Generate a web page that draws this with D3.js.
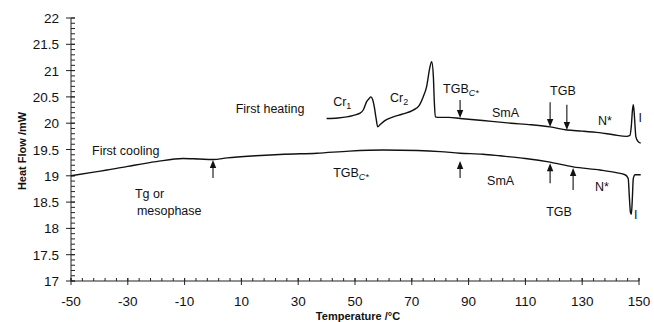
<!DOCTYPE html>
<html><head><meta charset="utf-8">
<script src="https://cdn.jsdelivr.net/npm/d3@7"></script>
<style>
html,body{margin:0;padding:0;background:#fff;}
svg{display:block;}
text{font-family:"Liberation Sans",Arial,sans-serif;fill:#111;}
.title{font-family:"Liberation Sans Narrow","Arial Narrow","Liberation Sans",Arial,sans-serif;font-weight:bold;font-size:11px;}
</style>
</head><body>
<svg id="c" width="654" height="322"></svg>
<script>
// ---- data ----
const xTicks = [-50, -30, -10, 10, 30, 50, 70, 90, 110, 130, 150];
const yTicks = [17, 17.5, 18, 18.5, 19, 19.5, 20, 20.5, 21, 21.5, 22];

const heatingT = [40, 44, 47.1, 49.5, 51.8, 53, 54.1, 55, 55.6, 56.2, 56.8, 57.4, 58.0, 58.8, 60.5, 63.5, 66.5, 70.5, 72.5, 74.0, 75.2, 76.4, 77.0, 77.6, 77.9, 78.3, 79.9, 83, 87, 95, 105, 112, 118.7, 124.6, 130, 136, 141, 145.6, 146.8, 147.3, 147.7, 148.0, 148.3, 148.6, 148.9, 149.7, 150.6];
const heatingV = [20.09, 20.10, 20.12, 20.15, 20.19, 20.26, 20.41, 20.47, 20.50, 20.45, 20.31, 20.10, 19.93, 19.97, 20.05, 20.12, 20.17, 20.25, 20.33, 20.50, 20.69, 21.07, 21.17, 20.88, 20.44, 20.12, 20.11, 20.11, 20.09, 20.05, 20.00, 19.97, 19.93, 19.87, 19.85, 19.82, 19.78, 19.75, 19.77, 19.95, 20.25, 20.35, 20.2, 19.95, 19.74, 19.65, 19.62];

const coolingT = [-50, -42, -37.3, -30, -20, -10.6, -5, 0, 5, 15, 25, 36.6, 48, 60, 72, 80, 87, 95, 101, 110, 118.7, 126.8, 136.3, 142, 145.1, 146.2, 146.6, 147.0, 147.3, 147.6, 148.0, 148.6, 150.6];
const coolingV = [19.0, 19.07, 19.11, 19.18, 19.27, 19.33, 19.32, 19.31, 19.34, 19.38, 19.41, 19.43, 19.47, 19.49, 19.48, 19.46, 19.43, 19.41, 19.38, 19.33, 19.26, 19.17, 19.11, 19.06, 19.02, 18.95, 18.6, 18.3, 18.27, 18.5, 18.95, 19.02, 19.02];

// arrows: temperature, tail value, tip value
const arrowT    = [87, 118.7, 124.6, 0, 87, 118.7, 126.8];
const arrowFrom = [20.44, 20.40, 20.35, 18.96, 18.96, 18.86, 18.73];
const arrowTo   = [20.10, 19.93, 19.87, 19.30, 19.28, 19.24, 19.15];

// annotations
const labelText = ["First heating", "Cr", "Cr", "TGB", "SmA", "TGB", "N*", "I",
                   "First cooling", "Tg or", "mesophase", "TGB", "SmA", "N*", "TGB", "I"];
const labelSub  = ["", "1", "2", "C*", "", "", "", "", "", "", "", "C*", "", "", "", ""];
const labelT    = [20.1, 42.3, 62.3, 81.0, 98.2, 118.7, 135.6, 149.8, -42.6, -27.5, -26.8, 42.3, 96.5, 134.5, 117.3, 148.2];
const labelV    = [20.19, 20.33, 20.40, 20.57, 20.12, 20.54, 19.97, 20.02, 19.40, 18.58, 18.25, 18.98, 18.83, 18.71, 18.24, 18.18];

// ---- chart ----
const svg = d3.select("#c");
const x = d3.scaleLinear().domain([-50, 150]).range([71, 639]);
const y = d3.scaleLinear().domain([17, 22]).range([281, 18]);

const ax = svg.append("g").attr("stroke", "#222").attr("stroke-width", 1);
// axis lines
ax.append("line").attr("x1", x(-50)).attr("x2", x(-50)).attr("y1", y(22)).attr("y2", y(17));
ax.append("line").attr("x1", x(-50)).attr("x2", x(150)).attr("y1", y(17)).attr("y2", y(17));
// y minor ticks every 0.1
d3.range(170, 221, 1).map(d => d / 10).forEach(v => {
  ax.append("line").attr("x1", x(-50)).attr("x2", x(-50) + 4).attr("y1", y(v)).attr("y2", y(v));
});
// y major ticks (crossing)
yTicks.forEach(v => {
  ax.append("line").attr("x1", x(-50) - 5).attr("x2", x(-50) + 4).attr("y1", y(v)).attr("y2", y(v));
});
// x minor ticks every 4
d3.range(-50, 151, 4).forEach(t => {
  ax.append("line").attr("x1", x(t)).attr("x2", x(t)).attr("y1", y(17)).attr("y2", y(17) - 3);
});
// x major ticks
xTicks.forEach(t => {
  ax.append("line").attr("x1", x(t)).attr("x2", x(t)).attr("y1", y(17) - 3).attr("y2", y(17) + 4);
});

// tick labels
svg.append("g").selectAll("text").data(yTicks).join("text")
  .attr("x", 59).attr("y", d => y(d) + 5)
  .attr("text-anchor", "end").attr("font-size", 13.5).text(d => d);
svg.append("g").selectAll("text").data(xTicks).join("text")
  .attr("x", d => x(d)).attr("y", 306)
  .attr("text-anchor", "middle").attr("font-size", 13.5).text(d => d);

// axis titles
svg.append("text").attr("class", "title").attr("x", 358).attr("y", 320)
  .attr("text-anchor", "middle").text("Temperature /°C");
svg.append("text").attr("class", "title")
  .attr("transform", "translate(26,151) rotate(-90)")
  .attr("text-anchor", "middle").text("Heat Flow /mW");

// curves
const line = d3.line().x(d => x(d[0])).y(d => y(d[1])).curve(d3.curveMonotoneX);
const heat = heatingT.map((t, i) => [t, heatingV[i]]);
const cool = coolingT.map((t, i) => [t, coolingV[i]]);
[heat, cool].forEach(s => {
  svg.append("path").attr("d", line(s)).attr("fill", "none")
    .attr("stroke", "#111").attr("stroke-width", 1.4).attr("stroke-linejoin", "round");
});

// arrows
arrowT.forEach((t, i) => {
  const x0 = x(t), y0 = y(arrowFrom[i]), y1 = y(arrowTo[i]);
  const dir = y1 > y0 ? 1 : -1;
  svg.append("line").attr("x1", x0).attr("x2", x0).attr("y1", y0).attr("y2", y1 - dir * 4)
    .attr("stroke", "#111").attr("stroke-width", 1.1);
  svg.append("path")
    .attr("d", `M${x0},${y1} L${x0 - 3.2},${y1 - dir * 8} L${x0 + 3.2},${y1 - dir * 8} Z`)
    .attr("fill", "#111");
});

// labels
labelText.forEach((s, i) => {
  const t = svg.append("text").attr("x", x(labelT[i])).attr("y", y(labelV[i]))
    .attr("font-size", 12.5);
  if (i === 0) t.attr("text-anchor", "middle");
  t.append("tspan").text(s);
  if (labelSub[i]) {
    const sub = t.append("tspan").attr("dy", 3).attr("font-size", 9).text(labelSub[i]);
    if (labelSub[i] === "C*") sub.attr("font-style", "italic");
  }
});
</script>
</body></html>
